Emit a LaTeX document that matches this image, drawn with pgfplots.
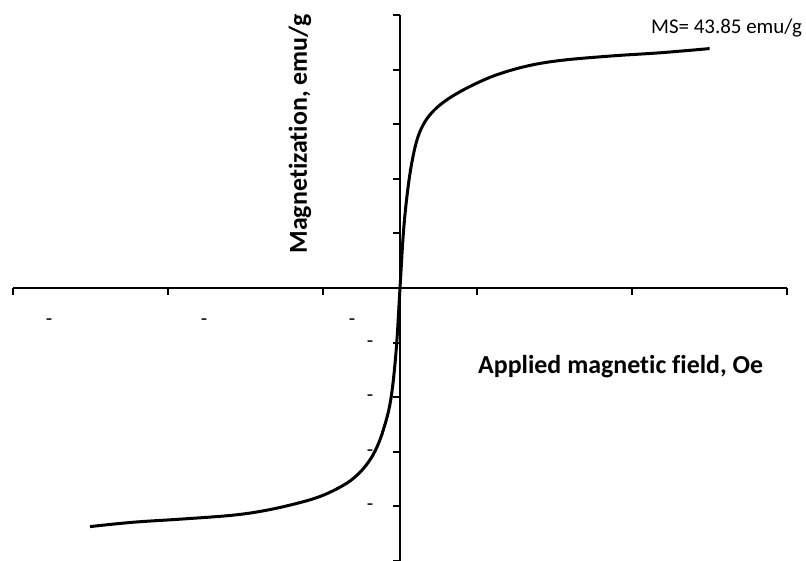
\documentclass[border=0pt]{standalone}
\usepackage{fontspec}
\setmainfont{Carlito}[Ligatures=NoCommon]
\usepackage{pgfplots}
\pgfplotsset{compat=1.18}
\begin{document}
\begin{tikzpicture}
\begin{axis}[
  scale only axis,
  width=774bp, height=546bp,
  xmin=-25000, xmax=25000, ymin=-50, ymax=50,
  axis x line=middle, axis y line=middle,
  axis line style={-, line width=2bp, black},
  xtick={-25000,-15000,-5000,5000,15000,25000},
  ytick={-50,-40,-30,-20,-10,0,10,20,30,40,50},
  xticklabels={}, yticklabels={},
  scaled x ticks=false, scaled y ticks=false,
  tick align=outside,
  major tick length=7bp,
  tick style={line width=2bp, black},
  clip=false,
]
\addplot[black, line width=3bp, smooth, tension=0.6] coordinates {
(-20026,-43.7) (-17229,-42.9) (-13999,-42.3) (-10765,-41.6) (-8611,-40.7)
(-6460,-39.3) (-5000,-38.0) (-3700,-36.2) (-2900,-34.6) (-2200,-32.5) (-1600,-29.8) (-1079,-26.0)
(-600,-20.5) (-250,-11.5) (0,0) (230,10.5) (500,18.0) (800,23.5)
(1150,27.6) (1600,30.4) (2150,32.4) (2800,34.0) (3600,35.5) (4800,37.3) (6300,39.1) (8288,40.7)
(10446,41.7) (13676,42.5) (16906,43.1) (20000,43.85)
};
\coordinate (bl) at (axis cs:-25000,-50);
\coordinate (tr) at (axis cs:25000,50);
\node[anchor=base west, inner sep=0pt, font=\fontsize{21}{25}\selectfont] at (axis cs:16215,46.7) {MS= 43.85 emu/g};
\node[anchor=base west, inner sep=0pt, font=\fontsize{26}{30}\selectfont\bfseries] at (axis cs:5039,-15.57) {Applied magnetic field, Oe};
\node[rotate=90, inner sep=0pt, font=\fontsize{26}{30}\selectfont\bfseries] at (axis cs:-6460,28.2) {Magnetization, emu/g};
\node[inner sep=0pt, font=\fontsize{21}{25}\selectfont] at (axis cs:-22675,-6.23) {-};
\node[inner sep=0pt, font=\fontsize{21}{25}\selectfont] at (axis cs:-12662,-6.23) {-};
\node[inner sep=0pt, font=\fontsize{21}{25}\selectfont] at (axis cs:-3101,-6.23) {-};
\node[inner sep=0pt, font=\fontsize{21}{25}\selectfont] at (axis cs:-1938,-10.26) {-};
\node[inner sep=0pt, font=\fontsize{21}{25}\selectfont] at (axis cs:-1938,-20.1) {-};
\node[inner sep=0pt, font=\fontsize{21}{25}\selectfont] at (axis cs:-1938,-30.2) {-};
\node[inner sep=0pt, font=\fontsize{21}{25}\selectfont] at (axis cs:-1938,-40.1) {-};
\end{axis}
\pgfresetboundingbox
\path ([xshift=-13bp]bl) rectangle ([xshift=19bp,yshift=15bp]tr);
\end{tikzpicture}
\end{document}
